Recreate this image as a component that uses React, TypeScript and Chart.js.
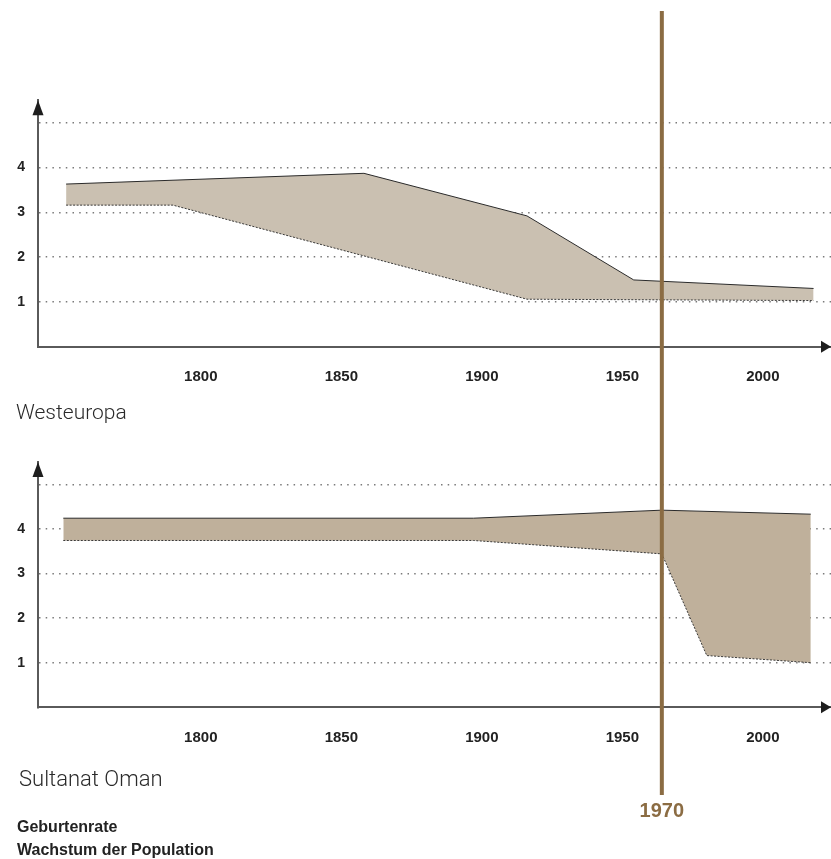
import React, { useEffect, useRef } from "react";
import { Chart, registerables } from "chart.js";

Chart.register(...registerables);

// ---- data ----
const xTickYears = [1800, 1850, 1900, 1950, 2000];
const xTickLabels = ["1800", "1850", "1900", "1950", "2000"];
const yTickValues = [1, 2, 3, 4, 5];
const yTickLabels = ["1", "2", "3", "4", ""];

const westBirthYears = [1758, 1864, 1922, 1960, 2024];
const westBirthRate = [3.63, 3.87, 2.92, 1.49, 1.3];
const westLowerYears = [1758, 1796, 1922, 2024];
const westLowerValues = [3.16, 3.16, 1.06, 1.03];

const omanBirthYears = [1757, 1903, 1970, 2023];
const omanBirthRate = [4.24, 4.24, 4.42, 4.33];
const omanLowerYears = [1757, 1903, 1970, 1986, 2023];
const omanLowerValues = [3.74, 3.74, 3.44, 1.16, 1.0];

const markerYear = 1970;
const markerLabel = "1970";

const panelTitles = ["Westeuropa", "Sultanat Oman"];
const legendLabels = ["Geburtenrate", "Wachstum der Population"];

const X_MIN = 1748.0;
const X_MAX = 2030.2;
const Y_MIN = 0;
const Y_MAX = 5.5;

const MARKER_COLOR = "#8b6c43";
const TICK_FONT = "'Liberation Sans', Arial, sans-serif";

function pts(xs: number[], ys: number[]) {
  return xs.map((x, i) => ({ x, y: ys[i] }));
}

function makeDecor(lineTop: number, lineBottom: number, showLabel: boolean) {
  return {
    id: "decor",
    afterDraw(chart: any) {
      const { ctx, chartArea } = chart;
      const xs = chart.scales.x;
      ctx.save();
      ctx.setLineDash([]);
      ctx.fillStyle = "#1e1e1e";
      // y arrow
      ctx.beginPath();
      ctx.moveTo(chartArea.left, chartArea.top);
      ctx.lineTo(chartArea.left - 5.5, chartArea.top + 15);
      ctx.lineTo(chartArea.left + 5.5, chartArea.top + 15);
      ctx.closePath();
      ctx.fill();
      // x arrow
      ctx.beginPath();
      ctx.moveTo(chartArea.right, chartArea.bottom);
      ctx.lineTo(chartArea.right - 10, chartArea.bottom - 6);
      ctx.lineTo(chartArea.right - 10, chartArea.bottom + 6);
      ctx.closePath();
      ctx.fill();
      // 1970 marker line
      const px = xs.getPixelForValue(markerYear);
      ctx.strokeStyle = MARKER_COLOR;
      ctx.lineWidth = 4;
      ctx.beginPath();
      ctx.moveTo(px, lineTop);
      ctx.lineTo(px, lineBottom);
      ctx.stroke();
      if (showLabel) {
        ctx.fillStyle = MARKER_COLOR;
        ctx.font = `bold 20px ${TICK_FONT}`;
        ctx.textAlign = "center";
        ctx.textBaseline = "middle";
        ctx.fillText(markerLabel, px, lineBottom + 16);
      }
      ctx.restore();
    },
  };
}

function makeConfig(
  upper: { x: number; y: number }[],
  lower: { x: number; y: number }[],
  fillColor: string,
  padTop: number,
  padBottom: number,
  decor: any
): any {
  return {
    type: "line",
    data: {
      datasets: [
        {
          label: "lower",
          data: lower,
          borderColor: "#3a3a3a",
          borderWidth: 1,
          borderDash: [2, 1.5],
          pointRadius: 0,
          fill: false,
          tension: 0,
        },
        {
          label: legendLabels[0],
          data: upper,
          borderColor: "#2a2a2a",
          borderWidth: 1,
          pointRadius: 0,
          backgroundColor: fillColor,
          fill: "-1",
          tension: 0,
        },
      ],
    },
    options: {
      responsive: false,
      maintainAspectRatio: false,
      animation: false,
      events: [],
      layout: { padding: { top: padTop, bottom: padBottom, left: 0, right: 0 } },
      plugins: {
        legend: { display: false },
        tooltip: { enabled: false },
        title: { display: false },
      },
      scales: {
        x: {
          type: "linear",
          min: X_MIN,
          max: X_MAX,
          afterBuildTicks: (s: any) => {
            s.ticks = xTickYears.map((v) => ({ value: v }));
          },
          afterFit: (s: any) => {
            s.height = 50;
          },
          grid: { display: false, drawTicks: false },
          border: { display: true, color: "#5a5a5a", width: 2 },
          ticks: {
            align: "start",
            maxRotation: 0,
            minRotation: 0,
            autoSkip: false,
            padding: 21.5,
            color: "#222",
            font: { family: TICK_FONT, size: 15, weight: "bold" },
            callback: (v: any) => {
              const i = xTickYears.indexOf(Number(v));
              return i >= 0 ? xTickLabels[i] : "";
            },
          },
        },
        y: {
          type: "linear",
          min: Y_MIN,
          max: Y_MAX,
          z: 1,
          afterBuildTicks: (s: any) => {
            s.ticks = yTickValues.map((v) => ({ value: v }));
          },
          afterFit: (s: any) => {
            s.width = 38;
          },
          grid: {
            display: true,
            drawTicks: false,
            color: "#7a7a7a",
            lineWidth: 1.5,
          },
          border: { display: true, color: "#5a5a5a", width: 2, dash: [1.5, 5.2] },
          ticks: {
            padding: 13,
            color: "#222",
            font: { family: TICK_FONT, size: 14, weight: "bold" },
            callback: (v: any) => {
              const i = yTickValues.indexOf(Number(v));
              return i >= 0 ? yTickLabels[i] : "";
            },
          },
        },
      },
    },
    plugins: [decor],
  };
}

export default function App() {
  const c1 = useRef<HTMLCanvasElement>(null);
  const c2 = useRef<HTMLCanvasElement>(null);

  useEffect(() => {
    const cfg1 = makeConfig(
      pts(westBirthYears, westBirthRate),
      pts(westLowerYears, westLowerValues),
      "#cac0b1",
      100.3,
      440 - 346.7 - 50,
      makeDecor(11, 440, false)
    );
    const cfg2 = makeConfig(
      pts(omanBirthYears, omanBirthRate),
      pts(omanLowerYears, omanLowerValues),
      "#bfb09b",
      22,
      419 - 267.3 - 50,
      makeDecor(0, 355, true)
    );
    const ch1 = new Chart(c1.current as HTMLCanvasElement, cfg1);
    const ch2 = new Chart(c2.current as HTMLCanvasElement, cfg2);
    return () => {
      ch1.destroy();
      ch2.destroy();
    };
  }, []);

  const titleStyle: React.CSSProperties = {
    position: "absolute",
    fontFamily: "Roboto, 'Open Sans', sans-serif",
    fontWeight: 300,
    color: "#2a2a2a",
    lineHeight: 1,
    whiteSpace: "nowrap",
  };
  const legendStyle: React.CSSProperties = {
    position: "absolute",
    left: 17,
    fontFamily: TICK_FONT,
    fontWeight: "bold",
    fontSize: 16,
    color: "#222",
    lineHeight: 1,
    whiteSpace: "nowrap",
  };

  return (
    <div
      style={{
        position: "absolute",
        left: 0,
        top: 0,
        width: 831,
        height: 859,
        background: "#fff",
        overflow: "hidden",
      }}
    >
      <canvas
        ref={c1}
        width={831}
        height={440}
        style={{ position: "absolute", left: 0, top: 0, display: "block" }}
      />
      <canvas
        ref={c2}
        width={831}
        height={419}
        style={{ position: "absolute", left: 0, top: 440, display: "block" }}
      />
      <div style={{ ...titleStyle, left: 16, top: 402, fontSize: 21 }}>{panelTitles[0]}</div>
      <div style={{ ...titleStyle, left: 19, top: 768, fontSize: 22 }}>{panelTitles[1]}</div>
      <div style={{ ...legendStyle, top: 819 }}>{legendLabels[0]}</div>
      <div style={{ ...legendStyle, top: 842 }}>{legendLabels[1]}</div>
    </div>
  );
}
